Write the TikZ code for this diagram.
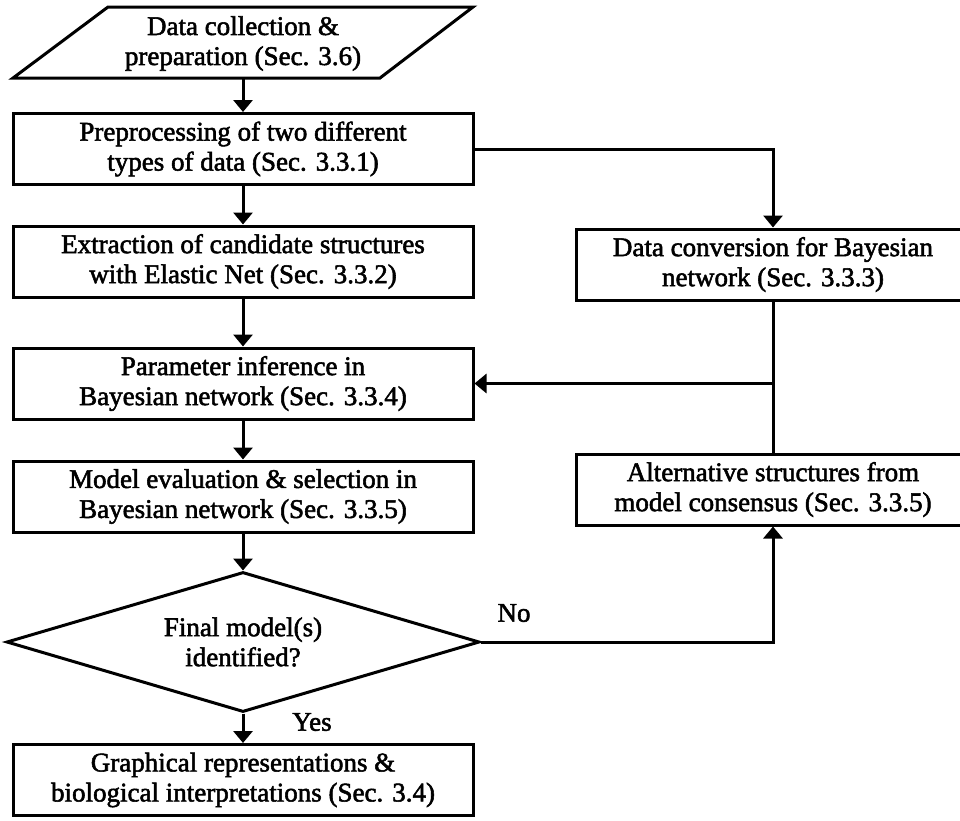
\documentclass[tikz,border=0pt]{standalone}
\usepackage{fontspec}
\setmainfont{Liberation Serif}
\newfontfamily\boxfont[FakeBold=2]{Liberation Serif}
\usetikzlibrary{shapes.geometric,arrows.meta,calc}

\tikzset{
  txt/.style={font=\boxfont\fontsize{27}{30}\selectfont},
  box/.style={draw, line width=3pt, minimum width=460pt, minimum height=71pt,
    inner sep=0pt, align=center, txt},
  sidebox/.style={box, minimum width=394pt},
  plain/.style={inner sep=0pt, align=center, txt},
  link/.style={line width=3pt},
  flow/.style={link, -{Triangle[width=19pt,length=12pt]}},
}

\begin{document}
\begin{tikzpicture}[x=1pt, y=-1pt]
\useasboundingbox (0,0) rectangle (960,820);

% input parallelogram
\draw[line width=3pt, line join=miter] (108,7) -- (473,7) -- (380,78) -- (13,78) -- cycle;
\node[plain, minimum height=71pt] (data) at (243,43.5) {Data collection \&\\preparation (Sec. 3.6)};

% main column
\node[box] (prep)  at (243,149)   {Preprocessing of two different\\types of data (Sec. 3.3.1)};
\node[box] (extr)  at (243,261.5) {Extraction of candidate structures\\with Elastic Net (Sec. 3.3.2)};
\node[box] (param) at (243,383.5) {Parameter inference in\\Bayesian network (Sec. 3.3.4)};
\node[box] (evalm) at (243,496.5) {Model evaluation \& selection in\\Bayesian network (Sec. 3.3.5)};
\node[draw, line width=3pt, diamond, minimum width=473pt, minimum height=140pt,
      inner sep=0pt, aspect=3.38, align=center, txt]
      (dec) at (243,642) {Final model(s)\\identified?};
\node[box] (final) at (243,780) {Graphical representations \&\\biological interpretations (Sec. 3.4)};

% side column
\node[sidebox] (conv) at (773,264.5) {Data conversion for Bayesian\\network (Sec. 3.3.3)};
\node[sidebox] (alt)  at (773,489.5) {Alternative structures from\\model consensus (Sec. 3.3.5)};
\coordinate (join) at (773,383.5);

% connectors
\draw[flow] (data.south) -- (prep.north);
\draw[flow] (prep.south) -- (extr.north);
\draw[flow] (extr.south) -- (param.north);
\draw[flow] (param.south) -- (evalm.north);
\draw[flow] (evalm.south) -- (dec.north);
\draw[flow] (dec.south) -- (final.north);
\draw[flow] (prep.east) -| (conv.north);
\draw[link] (conv.south) -- (join);
\draw[link] (alt.north) -- (join);
\draw[flow] (join) -- (param.east);
\draw[flow] (dec.east) -| (alt.south);

% branch labels
\node[plain] (yes) at (312,722) {Yes};
\node[plain] (no)  at (514,613) {No};
\end{tikzpicture}
\end{document}
